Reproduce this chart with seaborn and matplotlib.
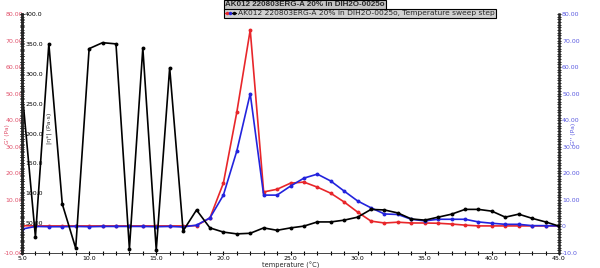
import matplotlib
matplotlib.use("Agg")
import matplotlib.pyplot as plt
import seaborn as sns
import numpy as np
import pandas as pd
from matplotlib.lines import Line2D
from matplotlib.legend_handler import HandlerTuple
from matplotlib.ticker import MultipleLocator, FixedLocator, FixedFormatter

# ---------------- data ----------------
temperature = list(range(5, 46))
g_storage = [0.3, 0.2, 0.2, 0.2, 0.2, 0.2, 0.2, 0.2, 0.2, 0.2, 0.2, 0.2, 0.2, 0.3,
             3.2, 16.3, 43.0, 74.0, 13.0, 14.0, 16.3, 16.7, 14.8, 12.5, 9.2, 5.4,
             2.0, 1.3, 1.6, 1.3, 1.3, 1.2, 0.9, 0.5, 0.2, 0.2, 0.2, 0.2, 0.2, 0.2, 0.2]
g_loss = [-1.0, 0.0, -0.1, -0.1, 0.0, -0.1, 0.0, 0.0, 0.0, 0.0, -0.1, 0.0, -0.2, 0.5,
          3.2, 11.8, 28.4, 50.0, 11.8, 11.8, 15.2, 18.2, 19.7, 17.1, 13.3, 9.6,
          7.0, 4.7, 4.5, 2.7, 2.1, 2.7, 2.7, 2.7, 1.7, 1.2, 0.8, 0.8, 0.3, 0.3, 0.2]
eta_complex = [273, 27, 350, 82, 8, 342, 352, 350, 7, 343, 5, 310, 37, 72,
               42, 35, 32, 33, 42, 38, 42, 45, 52, 52, 55, 60, 73, 72, 67,
               57, 55, 60, 65, 73, 73, 70, 60, 65, 58, 52, 45]

x_ticks = [5, 10, 15, 20, 25, 30, 35, 40, 45]
x_tick_labels = ["5.0", "10.0", "15.0", "20.0", "25.0", "30.0", "35.0", "40.0", "45.0"]
g_ticks = [-10, 0, 10, 20, 30, 40, 50, 60, 70, 80]
red_tick_labels = ["-10.00", "0", "10.00", "20.00", "30.00", "40.00", "50.00", "60.00", "70.00", "80.00"]
blue_tick_labels = ["-10.0", "0", "10.00", "20.00", "30.00", "40.00", "50.00", "60.00", "70.00", "80.00"]
eta_ticks = [0, 50, 100, 150, 200, 250, 300, 350, 400]
eta_tick_labels = ["", "50.00", "100.0", "150.0", "200.0", "250.0", "300.0", "350.0", "400.0"]

title_text = "AK012 220803ERG-A 20% in DIH2O-0025o"
legend_text = "AK012 220803ERG-A 20% in DIH2O-0025o, Temperature sweep step"

df = pd.DataFrame({"T": temperature, "Gp": g_storage, "Gpp": g_loss, "eta": eta_complex})

RED = "#e8262a"
BLUE = "#2323dd"
BLACK = "#000000"
RED_TXT = "#e0506a"
BLUE_TXT = "#5a5ae0"

sns.set_style("white")
plt.rcParams["font.family"] = ["DejaVu Sans"]

fig = plt.figure(figsize=(6.0, 2.68), dpi=100)
ax = fig.add_axes([22 / 600, 15 / 268, 537 / 600, 239 / 268])
axb = ax.twinx()
axk = ax.twinx()

line_kw = dict(marker="o", markersize=2.8, markeredgewidth=0, linewidth=1.2)
sns.lineplot(data=df, x="T", y="Gp", ax=ax, color=RED, **line_kw)
sns.lineplot(data=df, x="T", y="Gpp", ax=axb, color=BLUE, **line_kw)
sns.lineplot(data=df, x="T", y="eta", ax=axk, color=BLACK, **line_kw)

for a in (ax, axb, axk):
    a.set_xlim(5, 45)
    a.set_facecolor("none")
    a.set_ylabel("")
    for s in a.spines.values():
        s.set_visible(False)

ax.set_ylim(-10, 80)
axb.set_ylim(-10, 80)
axk.set_ylim(0, 400)

# x axis
ax.spines["bottom"].set_visible(True)
ax.spines["bottom"].set_linewidth(0.6)
ax.set_xticks(x_ticks)
ax.set_xticklabels(x_tick_labels)
ax.xaxis.set_minor_locator(MultipleLocator(1))
ax.tick_params(axis="x", which="both", direction="inout", length=2.5, width=0.8,
               labelsize=4.5, pad=1, colors="black", bottom=True)
ax.set_xlabel("temperature (°C)", fontsize=4.8, labelpad=0.5)

# red left axis
ax.spines["left"].set_visible(True)
ax.spines["left"].set_linewidth(1.8)
ax.yaxis.set_major_locator(FixedLocator(g_ticks))
ax.yaxis.set_major_formatter(FixedFormatter(red_tick_labels))
ax.yaxis.set_minor_locator(MultipleLocator(1))
ax.tick_params(axis="y", which="both", direction="inout", length=2.5, width=0.6,
               labelsize=4.5, pad=-2, labelcolor=RED_TXT, left=True, color="black")

# blue right axis
axb.spines["right"].set_visible(True)
axb.spines["right"].set_linewidth(1.8)
axb.yaxis.set_major_locator(FixedLocator(g_ticks))
axb.yaxis.set_major_formatter(FixedFormatter(blue_tick_labels))
axb.yaxis.set_minor_locator(MultipleLocator(1))
axb.tick_params(axis="y", which="both", direction="inout", length=2.5, width=0.6,
                labelsize=4.5, pad=1, labelcolor=BLUE_TXT, right=True, color="black")

# black axis, spine moved to left, labels inside
axk.spines["right"].set_visible(True)
axk.spines["right"].set_position(("axes", 0.0))
axk.spines["right"].set_linewidth(1.8)
axk.yaxis.set_major_locator(FixedLocator(eta_ticks))
axk.yaxis.set_major_formatter(FixedFormatter(eta_tick_labels))
axk.yaxis.set_minor_locator(MultipleLocator(10))
axk.tick_params(axis="y", which="both", direction="inout", length=2.5, width=0.6,
                labelsize=4.5, pad=1, labelcolor=BLACK, right=True, color="black")

# axis titles
fig.text(7 / 600, 1 - 134 / 268, "G' (Pa)", rotation=90, ha="center", va="center",
         fontsize=4.2, color=RED_TXT)
fig.text(49 / 600, 1 - 128 / 268, "|η*| (Pa·s)", rotation=90, ha="center", va="center",
         fontsize=4.6, color="#333333")
fig.text(574 / 600, 1 - 134 / 268, "G'' (Pa)", rotation=90, ha="center", va="center",
         fontsize=4.4, color=BLUE_TXT)

# title
fig.text(305 / 600, 1 - 5 / 268, title_text, ha="center", va="center",
         fontsize=5.8, fontweight="bold", family="Liberation Sans",
         bbox=dict(boxstyle="square,pad=0.15", facecolor="#c4c4c4", edgecolor="black", linewidth=0.8))

# legend
h_red = Line2D([], [], color=RED, marker="o", markersize=2.5, markeredgewidth=0, linewidth=1)
h_blue = Line2D([], [], color=BLUE, marker="o", markersize=2.5, markeredgewidth=0, linewidth=1)
h_black = Line2D([], [], color=BLACK, marker="o", markersize=2.5, markeredgewidth=0, linewidth=1)
leg = fig.legend([(h_red, h_blue, h_black)], [legend_text],
                 handler_map={tuple: HandlerTuple(ndivide=None, pad=0)},
                 loc="upper left", bbox_to_anchor=(224 / 600, 1 - 9 / 268),
                 fontsize=5.4, frameon=True, fancybox=False, framealpha=1,
                 borderpad=0.15, handlelength=1.4, handletextpad=0.3, borderaxespad=0)
leg.get_frame().set_facecolor("#d0d0d0")
leg.get_frame().set_edgecolor("black")
leg.get_frame().set_linewidth(0.8)

fig.savefig("out.png", dpi=100)
